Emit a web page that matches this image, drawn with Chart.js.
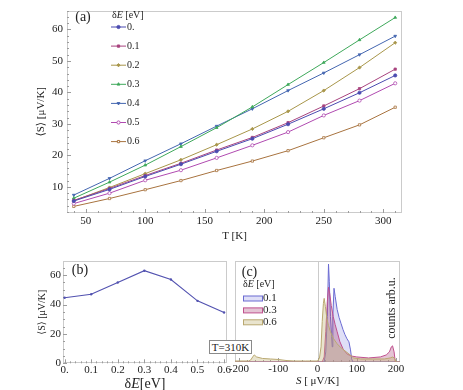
<!DOCTYPE html>
<html>
<head>
<meta charset="utf-8">
<script src="https://cdn.jsdelivr.net/npm/chart.js@4.4.0/dist/chart.umd.min.js"></script>
<style>
  html, body { margin: 0; padding: 0; background: #fff; }
  #wrap { position: relative; width: 463px; height: 390px; overflow: hidden; }
  #wrap canvas { position: absolute; left: 0; top: 0; }
  #tbox {
    position: absolute; left: 209px; top: 340px; width: 43px; height: 14px;
    box-sizing: border-box; border: 1px solid #8a8a8a; background: #fff;
    font: 11px "Liberation Serif", serif; color: #222; text-align: center; line-height: 12px;
  }
</style>
</head>
<body>
<div id="wrap">
  <canvas id="chartA" width="463" height="390"></canvas>
  <canvas id="chartB" width="463" height="390"></canvas>
  <canvas id="chartC" width="463" height="390"></canvas>
  <div id="tbox">T=310K</div>
</div>
<script>
// (a) <S> vs temperature, one line per deltaE
const temps = [40, 70, 100, 130, 160, 190, 220, 250, 280, 310];
const deltaLabels = ["0.", "0.1", "0.2", "0.3", "0.4", "0.5", "0.6"];
const sDelta00 = [5.5, 9.2, 13.3, 17.2, 21.3, 25.3, 29.9, 34.8, 39.9, 45.4];
const sDelta01 = [5.7, 9.5, 13.6, 17.5, 21.7, 25.7, 30.4, 35.7, 41.2, 47.4];
const sDelta02 = [5.6, 9.8, 14.2, 18.6, 23.4, 28.4, 34.0, 40.6, 47.9, 55.8];
const sDelta03 = [6.4, 11.5, 16.9, 22.8, 28.8, 35.4, 42.5, 49.5, 56.7, 63.8];
const sDelta04 = [7.4, 12.7, 18.3, 23.7, 29.3, 34.8, 40.6, 46.2, 52.0, 57.9];
const sDelta05 = [4.7, 8.0, 12.1, 15.3, 19.2, 23.2, 27.4, 32.7, 37.4, 42.9];
const sDelta06 = [3.8, 6.3, 9.1, 12.0, 15.2, 18.2, 21.5, 25.6, 29.7, 35.3];
const tTicks = [50, 100, 150, 200, 250, 300];
const sTicksA = [10, 20, 30, 40, 50, 60];

// (b) <S> at T=310K vs deltaE
const deltaE = [0, 0.1, 0.2, 0.3, 0.4, 0.5, 0.6];
const sAt310 = [44.6, 47.0, 55.0, 63.0, 57.0, 42.5, 34.6];
const sTicksB = [0, 20, 40, 60];

// (c) distributions of S
const histLabels = ["0.1", "0.3", "0.6"];
const histS01 = [-210, 17, 21, 25, 28, 30, 33, 36, 37.5, 39, 42, 45, 50, 55, 60, 65, 70, 75, 80, 84, 87, 90, 210];
const histN01 = [0, 0, 0.1, 0.45, 0.97, 0.8, 0.45, 0.25, 0.15, 0.45, 0.73, 0.65, 0.52, 0.44, 0.38, 0.32, 0.27, 0.23, 0.2, 0.12, 0.03, 0, 0];
const histS03 = [-210, 12, 17, 21, 25, 28, 31, 35, 40, 45, 50, 57, 65, 75, 85, 100, 130, 160, 175, 183, 188, 191, 195, 198, 210];
const histN03 = [0, 0, 0.05, 0.3, 0.6, 0.74, 0.68, 0.56, 0.45, 0.37, 0.3, 0.2, 0.13, 0.08, 0.06, 0.05, 0.04, 0.05, 0.07, 0.1, 0.15, 0.16, 0.1, 0, 0];
const histS06 = [-210, -175, -170, -165, -161, -155, -140, -120, -100, -80, -60, -30, 0, 5, 9, 12, 15, 17, 20, 24, 28, 33, 41, 50, 60, 70, 80, 92, 110, 140, 170, 185, 192, 197, 200, 210];
const histN06 = [0.01, 0.01, 0.02, 0.05, 0.07, 0.05, 0.035, 0.03, 0.025, 0.015, 0.01, 0.01, 0.01, 0.04, 0.15, 0.4, 0.58, 0.63, 0.55, 0.43, 0.36, 0.3, 0.23, 0.18, 0.14, 0.11, 0.08, 0.04, 0.03, 0.03, 0.03, 0.04, 0.05, 0.03, 0, 0];
const sTicksC = [-200, -100, 0, 100, 200];

const SERIF = '"Liberation Serif", "DejaVu Serif", serif';
const font = (px, italic) => (italic ? "italic " : "") + px + "px " + SERIF;
Chart.defaults.font.family = SERIF;
Chart.defaults.font.size = 11;
Chart.defaults.color = "#222";

const colorsA = ["#4b4bb0", "#a8447f", "#a8964a", "#3ea85a", "#4466b0", "#b04ab0", "#a8733f"];
const markersA = [
  { style: "circle", rot: 0, fill: true },
  { style: "rect", rot: 0, fill: true },
  { style: "rectRot", rot: 0, fill: true },
  { style: "triangle", rot: 0, fill: true },
  { style: "triangle", rot: 180, fill: true },
  { style: "circle", rot: 0, fill: false },
  { style: "rect", rot: 0, fill: false },
];

function drawText(ctx, parts, x, y, align, angle) {
  ctx.save();
  ctx.translate(x, y);
  if (angle) ctx.rotate(angle);
  ctx.textBaseline = "middle";
  ctx.textAlign = "left";
  ctx.fillStyle = "#222";
  let w = 0;
  parts.forEach(([t, f]) => { ctx.font = f; w += ctx.measureText(t).width; });
  let cx = align === "center" ? -w / 2 : align === "right" ? -w : 0;
  parts.forEach(([t, f]) => { ctx.font = f; ctx.fillText(t, cx, 0); cx += ctx.measureText(t).width; });
  ctx.restore();
}

function eachStep(min, max, step, fn) {
  const n0 = Math.ceil(min / step - 1e-9), n1 = Math.floor(max / step + 1e-9);
  for (let n = n0; n <= n1; n++) fn(n * step, n);
}

// light grey frame with small inward ticks, mathematica style
const frame = {
  id: "frame",
  beforeDatasetsDraw(chart, args, opt) {
    const { ctx, chartArea: { left, top, right, bottom }, scales: { x, y } } = chart;
    const seg = (x1, y1, x2, y2) => { ctx.beginPath(); ctx.moveTo(x1, y1); ctx.lineTo(x2, y2); ctx.stroke(); };
    ctx.save();
    ctx.lineWidth = 1;
    ctx.strokeStyle = "#cbcbcb";
    ctx.strokeRect(Math.round(left) + 0.5, Math.round(top) + 0.5, Math.round(right - left) - 1, Math.round(bottom - top) - 1);
    if (opt.zeroLine) {
      const px = Math.round(x.getPixelForValue(0)) + 0.5;
      seg(px, top, px, bottom);
    }
    ctx.strokeStyle = "#9c9c9c";
    if (opt.xStep) {
      eachStep(x.min, x.max, opt.xStep, (v, n) => {
        const px = Math.round(x.getPixelForValue(v)) + 0.5;
        seg(px, bottom, px, bottom - (n % opt.xEvery === 0 ? 4 : 2));
      });
    }
    if (opt.yStep) {
      eachStep(y.min, y.max, opt.yStep, (v, n) => {
        const py = Math.round(y.getPixelForValue(v)) + 0.5;
        seg(left, py, left + (n % opt.yEvery === 0 ? 4 : 2), py);
      });
    }
    ctx.restore();
  },
};

const baseOptions = () => ({
  responsive: false,
  animation: false,
  events: [],
  plugins: { legend: { display: false }, tooltip: { enabled: false } },
});

// ---------- (a) ----------
const seriesA = [sDelta00, sDelta01, sDelta02, sDelta03, sDelta04, sDelta05, sDelta06];
const optsA = baseOptions();
optsA.layout = { padding: { left: 0, top: 6, right: 61, bottom: 145 } };
optsA.plugins.frame = { xStep: 10, xEvery: 5, yStep: 2, yEvery: 5 };
optsA.scales = {
  x: {
    type: "linear", min: 34.3, max: 315.7,
    grid: { display: false, drawTicks: false }, border: { display: false },
    afterBuildTicks: (s) => { s.ticks = tTicks.map((v) => ({ value: v })); },
    afterFit: (s) => { s.height = 32; },
    ticks: { padding: 2, font: { size: 11 } },
    title: { display: true, text: "T [K]", font: { size: 11 }, padding: { top: 0, bottom: 2 } },
  },
  y: {
    min: 1.7, max: 66,
    grid: { display: false, drawTicks: false }, border: { display: false },
    afterBuildTicks: (s) => { s.ticks = sTicksA.map((v) => ({ value: v })); },
    afterFit: (s) => { s.width = 67; },
    ticks: { padding: 4, font: { size: 11 } },
    title: { display: true, text: "⟨S⟩ [μV/K]", font: { size: 11 }, padding: { top: 35, bottom: 0 } },
  },
};

const notesA = {
  id: "notesA",
  afterDraw(chart) {
    const ctx = chart.ctx;
    drawText(ctx, [["(a)", font(14)]], 83, 17, "center");
    drawText(ctx, [["δ", font(10)], ["E", font(10, true)], [" [eV]", font(10)]], 112, 15.5, "left");
    chart.data.datasets.forEach((ds, i) => {
      const yy = 27 + i * 19.1;
      ctx.save();
      ctx.strokeStyle = ds.borderColor;
      ctx.lineWidth = 1;
      ctx.beginPath(); ctx.moveTo(111, yy); ctx.lineTo(126, yy); ctx.stroke();
      ctx.fillStyle = ds.pointBackgroundColor;
      Chart.helpers.drawPoint(ctx, { pointStyle: ds.pointStyle, rotation: ds.pointRotation, radius: 1.6, borderWidth: 1 }, 118.5, yy);
      ctx.restore();
      drawText(ctx, [[ds.label, font(10)]], 127, yy, "left");
    });
  },
};

new Chart(document.getElementById("chartA"), {
  type: "line",
  data: {
    datasets: seriesA.map((vals, i) => ({
      label: deltaLabels[i],
      data: temps.map((t, k) => ({ x: t, y: vals[k] })),
      borderColor: colorsA[i],
      borderWidth: 1,
      tension: 0,
      pointStyle: markersA[i].style,
      pointRotation: markersA[i].rot,
      pointRadius: 1.6,
      pointBorderWidth: 0.8,
      pointBorderColor: colorsA[i],
      pointBackgroundColor: markersA[i].fill ? colorsA[i] : "#ffffff",
    })),
  },
  options: optsA,
  plugins: [frame, notesA],
});

// ---------- (b) ----------
const optsB = baseOptions();
optsB.layout = { padding: { left: 0, top: 261, right: 236, bottom: 0 } };
optsB.plugins.frame = { xStep: 0.02, xEvery: 5, yStep: 5, yEvery: 4 };
optsB.scales = {
  x: {
    type: "linear", min: -0.006, max: 0.611,
    grid: { display: false, drawTicks: false }, border: { display: false },
    afterBuildTicks: (s) => { s.ticks = deltaE.map((v) => ({ value: v })); },
    afterFit: (s) => { s.height = 26.7; },
    ticks: { padding: 0, font: { size: 11 }, callback: (v, i) => deltaLabels[i] },
  },
  y: {
    min: 0, max: 69.6,
    grid: { display: false, drawTicks: false }, border: { display: false },
    afterBuildTicks: (s) => { s.ticks = sTicksB.map((v) => ({ value: v })); },
    afterFit: (s) => { s.width = 63; },
    ticks: { padding: 2, font: { size: 11 } },
    title: { display: true, text: "⟨S⟩ [μV/K]", font: { size: 10 }, padding: { top: 36, bottom: 0 } },
  },
};
const notesB = {
  id: "notesB",
  afterDraw(chart) {
    const ctx = chart.ctx;
    const a = chart.chartArea;
    drawText(ctx, [["(b)", font(14)]], 80, 270, "center");
    drawText(ctx, [["δ", font(14)], ["E", font(14, true)], ["[eV]", font(14)]], (a.left + a.right) / 2, 384, "center");
  },
};
new Chart(document.getElementById("chartB"), {
  type: "line",
  data: {
    datasets: [{
      label: "T=310K",
      data: deltaE.map((d, i) => ({ x: d, y: sAt310[i] })),
      borderColor: "#5252b0",
      backgroundColor: "#5252b0",
      borderWidth: 1.1,
      tension: 0,
      pointRadius: 1.2,
      pointBorderWidth: 0,
    }],
  },
  options: optsB,
  plugins: [frame, notesB],
});

// ---------- (c) ----------
const histS = [histS01, histS03, histS06];
const histN = [histN01, histN03, histN06];
const lineC = ["#6a6ad2", "#c0508e", "#b9a870"];
const fillC = ["rgba(140,140,225,0.28)", "rgba(170,70,120,0.32)", "rgba(195,180,120,0.36)"];
const optsC = baseOptions();
optsC.layout = { padding: { left: 235, top: 261, right: 63, bottom: 0 } };
optsC.plugins.frame = { xStep: 20, xEvery: 5, zeroLine: true };
optsC.scales = {
  x: {
    type: "linear", min: -210, max: 210,
    grid: { display: false, drawTicks: false }, border: { display: false },
    afterBuildTicks: (s) => { s.ticks = sTicksC.map((v) => ({ value: v })); },
    afterFit: (s) => { s.height = 28; },
    ticks: { padding: 1, font: { size: 11 } },
  },
  y: { display: false, min: 0, max: 1 },
};
const notesC = {
  id: "notesC",
  afterDraw(chart) {
    const ctx = chart.ctx;
    const a = chart.chartArea;
    drawText(ctx, [["(c)", font(14)]], 249.5, 272, "center");
    drawText(ctx, [["δ", font(10)], ["E", font(10, true)], [" [eV]", font(10)]], 243, 284, "left");
    histLabels.forEach((lab, i) => {
      const yy = 298.5 + i * 11.9;
      ctx.save();
      ctx.fillStyle = fillC[i];
      ctx.fillRect(243, yy - 2.5, 19, 5);
      ctx.strokeStyle = lineC[i];
      ctx.lineWidth = 1;
      ctx.strokeRect(243.5, yy - 2.5, 19, 5);
      ctx.restore();
      drawText(ctx, [[lab, font(11)]], 263, yy, "left");
    });
    drawText(ctx, [["counts arb.u.", font(12)]], 392, 308, "center", -Math.PI / 2);
    drawText(ctx, [["S", font(11, true)], [" [ μV/K]", font(11)]], (a.left + a.right) / 2, 381.5, "center");
  },
};
new Chart(document.getElementById("chartC"), {
  type: "line",
  data: {
    datasets: histLabels.map((lab, i) => ({
      label: lab,
      data: histS[i].map((s, k) => ({ x: s, y: histN[i][k] })),
      borderColor: lineC[i],
      backgroundColor: fillC[i],
      borderWidth: 1,
      fill: "origin",
      tension: 0,
      pointRadius: 0,
      order: 3 - i,
    })),
  },
  options: optsC,
  plugins: [frame, notesC],
});
</script>
</body>
</html>
